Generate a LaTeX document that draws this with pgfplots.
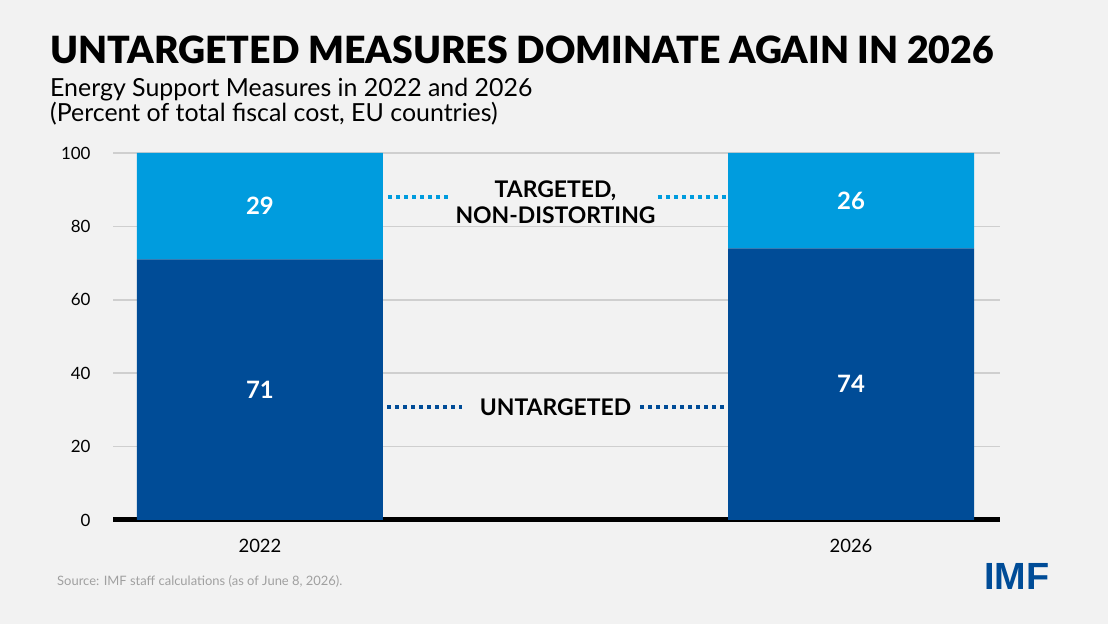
\documentclass[border=0pt]{standalone}
\usepackage{pgfplots}
\pgfplotsset{compat=1.18}
\usepackage{fontspec}
\setmainfont{Lato}
\newfontfamily\heavyfont{Lato Black}
\newfontfamily\logofont{Liberation Sans}

\definecolor{bg}{HTML}{F2F2F2}
\definecolor{darkblue}{HTML}{004C97}
\definecolor{lightblue}{HTML}{009CDE}
\definecolor{gridgray}{HTML}{CFCFCF}
\definecolor{srcgray}{HTML}{A0A0A0}

% shares of total fiscal cost (percent)
\def\untA{71}\def\tarA{29}
\def\untB{74}\def\tarB{26}
% label positions: middle of each segment
\pgfmathsetmacro\yA{\untA/2}
\pgfmathsetmacro\yB{\untB/2}
\pgfmathsetmacro\yC{\untA+\tarA/2}
\pgfmathsetmacro\yD{\untB+\tarB/2}

\begin{document}
\begin{tikzpicture}[x=1bp,y=1bp]
\fill[bg] (0,0) rectangle (1108,624);
\useasboundingbox (0,0) rectangle (1108,624);

% titles
\node[anchor=base west, inner sep=0] at (50,560)
  {\heavyfont\fontsize{37.6}{40}\selectfont UNTARGETED MEASURES DOMINATE AGAIN IN 2026};
\node[anchor=base west, inner sep=0] at (50,527)
  {\fontsize{25}{28}\selectfont Energy Support Measures in 2022 and 2026};
\node[anchor=base west, inner sep=0] at (50,502)
  {\fontsize{25}{28}\selectfont (Percent of total fiscal cost, EU countries)};

% footer
\node[anchor=base west, inner sep=0, text=srcgray] at (57,38)
  {\fontsize{13}{15}\selectfont Source: IMF staff calculations (as of June 8, 2026).};
\node[anchor=base west, inner sep=0, text=darkblue] at (984,34)
  {\logofont\bfseries\fontsize{38}{40}\selectfont IMF};

\begin{axis}[
  at={(113bp,104bp)}, anchor=south west,
  scale only axis, width=887bp, height=367bp,
  xmin=-0.2487, xmax=1.2521, ymin=0, ymax=100,
  ybar stacked, bar width=246bp,
  xtick={0,1}, xticklabels={2022,2026},
  ytick={0,20,40,60,80,100},
  major tick length=0pt,
  separate axis lines,
  axis x line*=bottom, axis y line*=left,
  x axis line style={line width=5bp, black, -},
  y axis line style={draw=none},
  ymajorgrids, grid style={line width=1.5bp, gridgray},
  yticklabel style={xshift=-19bp, font=\fontsize{17}{19}\selectfont},
  xticklabel style={yshift=-16bp, font=\fontsize{18.5}{20}\selectfont},
  /pgf/number format/assume math mode=true,
  clip=false,
]
\addplot[fill=darkblue, draw=none] coordinates {(0,\untA) (1,\untB)};
\addplot[fill=lightblue, draw=none] coordinates {(0,\tarA) (1,\tarB)};

% anchors for the value labels, drawn after the bars
\coordinate (labA) at (axis cs:0,\yA);
\coordinate (labB) at (axis cs:1,\yB);
\coordinate (labC) at (axis cs:0,\yC);
\coordinate (labD) at (axis cs:1,\yD);

% category callouts
\draw[lightblue, line width=3.5bp, dash pattern=on 4bp off 4bp] (axis cs:0.2166,88.0) -- (axis cs:0.318,88.0);
\draw[lightblue, line width=3.5bp, dash pattern=on 4bp off 4bp] (axis cs:0.673,88.0) -- (axis cs:0.790,88.0);
\node[align=center, font=\bfseries\fontsize{23}{26}\selectfont] at (axis cs:0.5,86.6)
  {TARGETED,\\NON-DISTORTING};
\draw[darkblue, line width=3.5bp, dash pattern=on 4bp off 4bp] (axis cs:0.215,30.8) -- (axis cs:0.342,30.8);
\draw[darkblue, line width=3.5bp, dash pattern=on 4bp off 4bp] (axis cs:0.643,30.8) -- (axis cs:0.790,30.8);
\node[font=\bfseries\fontsize{23}{26}\selectfont] at (axis cs:0.5,30.8) {UNTARGETED};
\end{axis}

\begin{scope}[every node/.style={text=white, font=\bfseries\fontsize{24}{26}\selectfont}]
\node at (labA) {\untA};
\node at (labB) {\untB};
\node at (labC) {\tarA};
\node at (labD) {\tarB};
\end{scope}
\end{tikzpicture}
\end{document}
